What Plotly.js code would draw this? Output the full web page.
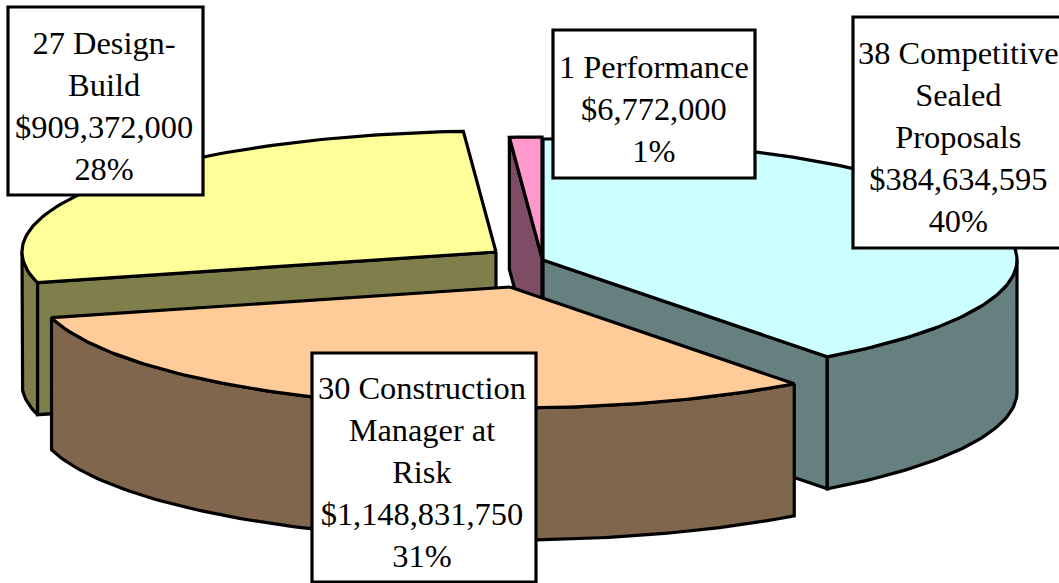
<!DOCTYPE html>
<html>
<head>
<meta charset="utf-8">
<script src="https://cdn.plot.ly/plotly-3.0.1.min.js"></script>
<style>html,body{margin:0;padding:0;background:#fff;overflow:hidden}#chart{width:1059px;height:583px}</style>
</head>
<body>
<div id="chart"></div>
<script>
// --- data ---
const categories = ["38 Competitive<br>Sealed<br>Proposals", "30 Construction<br>Manager at<br>Risk", "27 Design-<br>Build", "1 Performance"];
const counts = [38, 30, 27, 1];
const amounts = ["$384,634,595", "$1,148,831,750", "$909,372,000", "$6,772,000"];
const percents = ["40%", "31%", "28%", "1%"];

// --- styling / layout of the exploded 3-D pie ---
const topColors = ["#CCFFFF", "#FFCC99", "#FFFF99", "#FF99CC"];
const sideColors = ["#667F7F", "#7F664C", "#7F7F4C", "#7F4C66"];
const apexX = [543, 510, 496, 542];
const apexY = [260, 287, 252, 258];
const faceEdge = ["end", null, "start", "start"];
const edgeNudge = [0.65, 0.3, -0.2, 0];   // small projection correction of each slice's end edge, degrees
const boxes = [[853, 17, 1064, 248], [312, 353, 536, 582], [8, 7, 203, 195], [553, 30, 755, 178]];
const drawOrder = [3, 0, 2, 1];
const RX = 474, RY = 121, DEPTH = 132, LW = 3.2;

const total = counts.reduce((a, b) => a + b, 0);
let run = 0;
const starts = [], ends = [];
counts.forEach((c, i) => {
  starts.push(run / total * 360 + (i ? edgeNudge[i - 1] : 0));
  run += c;
  ends.push(run / total * 360 + edgeNudge[i]);
});

const rad = d => d * Math.PI / 180;
const px = (i, t) => apexX[i] + RX * Math.sin(rad(t));
const py = (i, t) => apexY[i] - RY * Math.cos(rad(t));
function arc(i, a, b, dy) {
  const xs = [], ys = [], n = Math.max(2, Math.ceil(Math.abs(b - a)));
  for (let k = 0; k <= n; k++) {
    const t = a + (b - a) * k / n;
    xs.push(px(i, t)); ys.push(py(i, t) + dy);
  }
  return [xs, ys];
}
function poly(xs, ys, fill) {
  return {type: "scatter", mode: "lines", x: xs.concat(xs[0]), y: ys.concat(ys[0]),
    fill: "toself", fillcolor: fill, line: {color: "#000", width: LW, shape: "linear"},
    hoverinfo: "skip", showlegend: false};
}
const traces = [];
drawOrder.forEach(i => {
  const s = starts[i], e = ends[i];
  // straight cut face
  if (faceEdge[i]) {
    const t = faceEdge[i] === "end" ? e : s;
    const ox = px(i, t), oy = py(i, t);
    traces.push(poly([apexX[i], ox, ox, apexX[i]], [apexY[i], oy, oy + DEPTH, apexY[i] + DEPTH], sideColors[i]));
  }
  // outer rim: only the part facing the viewer
  const a = Math.max(s, 90), b = Math.min(e, 270);
  if (b > a) {
    const [tx, ty] = arc(i, a, b, 0);
    const [bx, by] = arc(i, b, a, DEPTH);
    traces.push(poly(tx.concat(bx), ty.concat(by), sideColors[i]));
  }
  // top surface
  const [ax, ay] = arc(i, s, e, 0);
  traces.push(poly([apexX[i]].concat(ax), [apexY[i]].concat(ay), topColors[i]));
});

const shapes = boxes.map(b => ({type: "rect", layer: "above", xref: "x", yref: "y",
  x0: b[0], y0: b[1], x1: b[2], y1: b[3], fillcolor: "#fff", line: {color: "#000", width: LW}}));
const labelX = [958, 422, 103.5, 654];
const annotations = categories.map((c, i) => ({
  xref: "x", yref: "y", x: labelX[i], y: (boxes[i][1] + boxes[i][3]) / 2 + 4.5,
  text: c + "<br>" + amounts[i] + "<br>" + percents[i],
  showarrow: false, xanchor: "center", yanchor: "middle", align: "center",
  font: {family: "Liberation Serif", size: 32.4, color: "#000"}
}));

const hidden = {visible: false, fixedrange: true};
Plotly.newPlot("chart", traces, {
  width: 1059, height: 583, margin: {l: 0, r: 0, t: 0, b: 0},
  paper_bgcolor: "#fff", plot_bgcolor: "#fff", showlegend: false,
  xaxis: Object.assign({range: [0, 1059]}, hidden),
  yaxis: Object.assign({range: [583, 0]}, hidden),
  shapes, annotations
}, {displayModeBar: false, staticPlot: true});
</script>
</body>
</html>
